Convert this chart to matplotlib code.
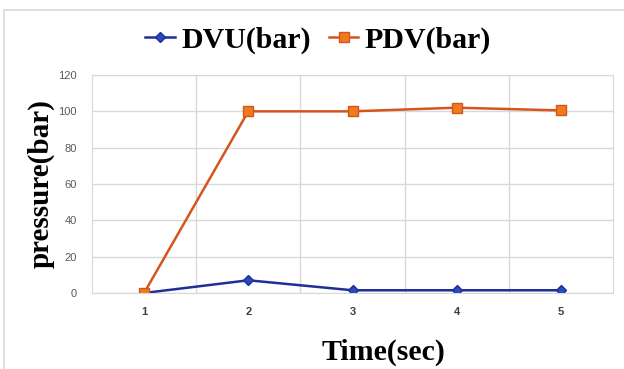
import matplotlib.pyplot as plt
from matplotlib.patches import Rectangle

time_sec = [1, 2, 3, 4, 5]
dvu_bar = [0, 7, 1.5, 1.5, 1.5]
pdv_bar = [0, 100, 100, 102, 100.5]
yticks = [0, 20, 40, 60, 80, 100, 120]

fig = plt.figure(figsize=(6.24, 3.69), dpi=100)
ax = fig.add_axes([92/624, 1-293/369, (613-92)/624, (293-75)/369])

# outer frame of the chart
fig.patches.append(Rectangle((4/624, -0.1), 1.2, 1.1 - 10/369, transform=fig.transFigure,
                             fill=False, edgecolor='#d9d9d9', linewidth=1.2))

ax.plot(time_sec, dvu_bar, color='#1f2e9a', lw=1.8, marker='D', ms=5,
        mfc='#2a48c0', mec='#1f2e9a', label='DVU(bar)')
ax.plot(time_sec, pdv_bar, color='#d4561c', lw=1.8, marker='s', ms=7,
        mfc='#f07a1e', mec='#d4561c', label='PDV(bar)')

ax.set_xlim(0.5, 5.5)
ax.set_ylim(0, 120)
ax.set_yticks(yticks)
ax.set_xticks(time_sec)
ax.set_xticks([1.5, 2.5, 3.5, 4.5], minor=True)
ax.grid(True, which='major', axis='y', color='#d9d9d9', lw=1)
ax.grid(True, which='minor', axis='x', color='#d9d9d9', lw=1)
ax.tick_params(which='both', length=0)
ax.tick_params(axis='y', labelsize=8, labelcolor='#595959', pad=11)
ax.tick_params(axis='x', labelsize=8, labelcolor='#404040', pad=10)
for lab in ax.get_xticklabels() + ax.get_yticklabels():
    lab.set_family('Liberation Sans')
for lab in ax.get_xticklabels():
    lab.set_fontweight('bold')
for s in ax.spines.values():
    s.set_color('#d9d9d9')

# axis titles placed like the original
fig.text(41/624, 1-184/369, 'pressure(bar)', rotation=90, ha='center', va='center',
         family='Liberation Serif', fontweight='bold', fontsize=21)
fig.text(383/624, 1-352/369, 'Time(sec)', ha='center', va='center',
         family='Liberation Serif', fontweight='bold', fontsize=21.5)

fig.legend(loc='center', bbox_to_anchor=(318/624, 1-40/369), ncol=2, frameon=False,
           prop={'family': 'Liberation Serif', 'weight': 'bold', 'size': 21.5},
           handlelength=1.0, handletextpad=0.2, columnspacing=0.6)

fig.savefig('out.png', dpi=100)
